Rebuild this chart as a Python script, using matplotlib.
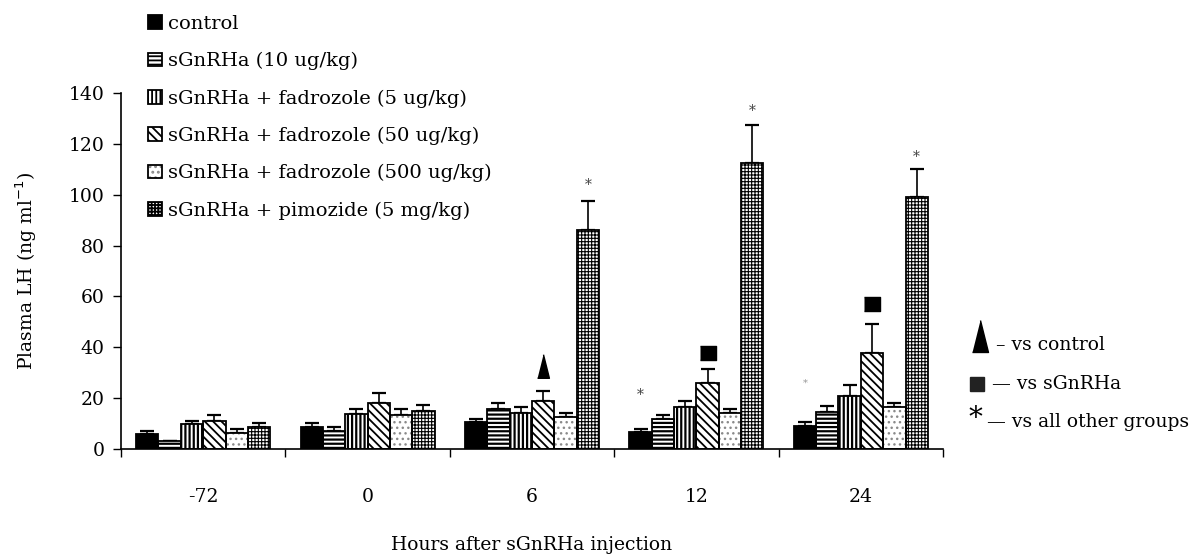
import matplotlib
matplotlib.use('Agg')
import matplotlib.pyplot as plt
from matplotlib.legend_handler import HandlerTuple
import numpy as np

# data
hours = ['-72', '0', '6', '12', '24']
groups = ['control', 'sGnRHa (10 ug/kg)', 'sGnRHa + fadrozole (5 ug/kg)',
          'sGnRHa + fadrozole (50 ug/kg)', 'sGnRHa + fadrozole (500 ug/kg)',
          'sGnRHa + pimozide (5 mg/kg)']
control = [5.8, 8.8, 10.5, 6.6, 8.9]
control_err = [1.4, 1.4, 1.3, 1.4, 1.6]
sgnrha = [3.2, 7.2, 15.9, 11.8, 14.4]
sgnrha_err = [0.0, 1.6, 2.3, 1.6, 2.4]
fad5 = [9.7, 13.6, 14.0, 16.5, 20.7]
fad5_err = [1.5, 2.3, 2.5, 2.5, 4.6]
fad50 = [11.2, 18.2, 19.0, 26.1, 37.9]
fad50_err = [2.3, 3.8, 3.8, 5.4, 11.1]
fad500 = [6.4, 13.4, 12.6, 14.0, 16.5]
fad500_err = [1.6, 2.5, 1.7, 1.7, 1.6]
pimozide = [8.8, 15.1, 86.0, 112.6, 99.2]
pimozide_err = [1.4, 2.4, 11.6, 15.0, 11.0]

means = [control, sgnrha, fad5, fad50, fad500, pimozide]
errs = [control_err, sgnrha_err, fad5_err, fad50_err, fad500_err, pimozide_err]

# significance marks: (hour index, group index, y)
triangle_marks = [(2, 3, 32.5)]
square_marks = [(3, 3, 37.8), (4, 3, 57.0)]
star_marks = [(2, 5, 104.0), (3, 5, 133.0), (4, 5, 115.0), (3, 0, 21.3)]
faint_star_marks = [(4, 0, 26.0)]

# look of each group: face, hatch, hatch colour, hatch width
styles = [
    ('black', '', 'black', 1.3),
    ('white', '----', 'black', 1.6),
    ('white', '||||', 'black', 1.6),
    ('white', '\\\\\\\\', 'black', 1.3),
    ('white', '...', '#8a8a8a', 1.0),
    ('white', '+++++', 'black', 0.8),
]

plt.rcParams['font.family'] = ['DejaVu Serif']
plt.rcParams['hatch.linewidth'] = 1.3

fig = plt.figure(figsize=(12.01, 5.59), dpi=100)
ax = fig.add_axes([121 / 1201, 110 / 559, 822 / 1201, 356 / 559])

tri = [(-0.5, -1), (0.5, -1), (0, 1)]
x = np.arange(len(hours))
w = 0.136
handles = []
for i, (m, e) in enumerate(zip(means, errs)):
    face, hatch, hcol, hlw = styles[i]
    pos = x + (i - 2.5) * w
    hb = ax.bar(pos, m, w, color=face, edgecolor=hcol, hatch=hatch, linewidth=0, zorder=2)
    for p in hb:
        if hasattr(p, 'set_hatch_linewidth'):
            p.set_hatch_linewidth(hlw)
    ob = ax.bar(pos, m, w, fill=False, edgecolor='black', linewidth=1.3, zorder=3)
    ax.errorbar(pos, m, yerr=[np.zeros(len(e)), e], fmt='none', ecolor='black',
                elinewidth=1.2, capsize=5, capthick=1.6, zorder=1)
    handles.append((hb, ob))

for h, g, y in triangle_marks:
    ax.plot(x[h] + (g - 2.5) * w, y, marker=tri, ms=17, color='black', clip_on=False)
for h, g, y in square_marks:
    ax.plot(x[h] + (g - 2.5) * w, y, marker=[(-1, -0.78), (1, -0.78), (1, 0.78), (-1, 0.78)],
            ms=12, color='black', clip_on=False)
for h, g, y in star_marks:
    ax.text(x[h] + (g - 2.5) * w, y, '*', ha='center', va='center', fontsize=10, color='#444444')
for h, g, y in faint_star_marks:
    ax.text(x[h] + (g - 2.5) * w, y, '*', ha='center', va='center', fontsize=7, color='#999999')

ax.set_xlim(-0.5, 4.5)
ax.set_ylim(0, 140)
ax.set_yticks(range(0, 141, 20))
ax.set_xticks(x)
ax.set_xticklabels(hours)
ax.set_xticks(np.arange(-0.5, 4.6, 1), minor=True)
ax.tick_params(axis='x', which='major', length=0, pad=28, labelsize=13.5)
ax.tick_params(axis='x', which='minor', length=6, width=1, direction='out')
ax.tick_params(axis='y', length=6, width=1, direction='out', labelsize=13.5, pad=6)
for s in ['top', 'right']:
    ax.spines[s].set_visible(False)
for s in ['left', 'bottom']:
    ax.spines[s].set_linewidth(1.2)

ax.set_ylabel('Plasma LH (ng ml$^{-1}$)', fontsize=13.5)
ax.yaxis.set_label_coords(-0.1, 0.5)
ax.set_xlabel('Hours after sGnRHa injection', fontsize=13.5, labelpad=22)

ax.legend(handles, groups, loc='upper left', bbox_to_anchor=(148 / 1201, 544 / 559),
          bbox_transform=fig.transFigure, frameon=False, fontsize=14,
          handlelength=0.7, handleheight=0.7, handletextpad=0.35, labelspacing=0.98,
          borderpad=0, borderaxespad=0, handler_map={tuple: HandlerTuple(ndivide=1)})

# key for significance marks
ax.plot(980 / 1201, 1 - 336 / 559, marker=tri, ms=23, color='black',
        transform=fig.transFigure, clip_on=False)
fig.text(996 / 1201, 1 - 345 / 559, '– vs control', fontsize=13.5, va='center')
ax.plot(977 / 1201, 1 - 384 / 559, marker='s', ms=10, color='#222222',
        transform=fig.transFigure, clip_on=False)
fig.text(992 / 1201, 1 - 384 / 559, '— vs sGnRHa', fontsize=13.5, va='center')
fig.text(975 / 1201, 1 - 418 / 559, '*', fontsize=20, ha='center', va='center')
fig.text(987 / 1201, 1 - 422 / 559, '— vs all other groups', fontsize=13.5, va='center')

fig.savefig('out.png', dpi=100)
